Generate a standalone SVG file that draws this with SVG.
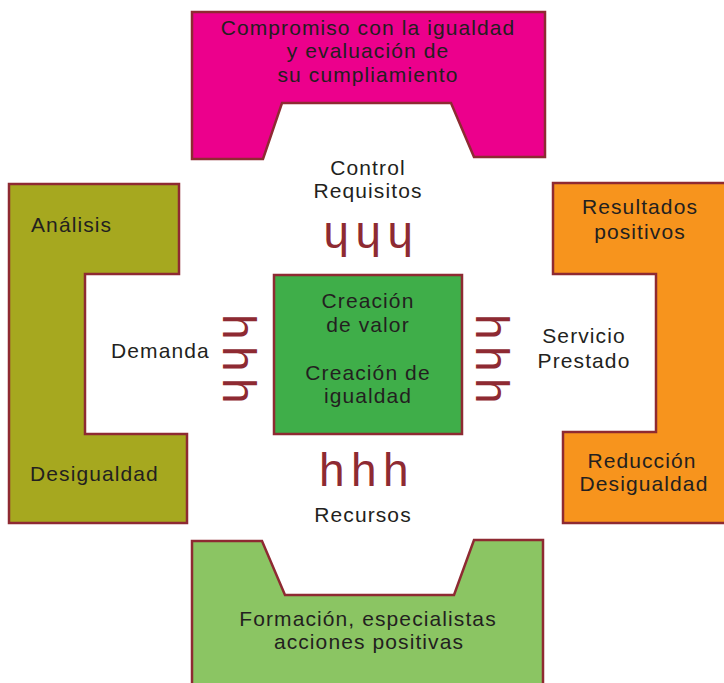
<svg xmlns="http://www.w3.org/2000/svg" width="724" height="683" viewBox="0 0 724 683">
  <style>
    .blk { stroke: #8E2A32; stroke-width: 2.5; stroke-linejoin: miter; }
    .lbl { font-family: "Liberation Sans", Arial, sans-serif; font-size: 21px; fill: #231F20; letter-spacing: 1.1px; }
    .mid { text-anchor: middle; }
    .arr { font-family: "Liberation Sans", Arial, sans-serif; font-size: 46px; fill: #8E2A32; letter-spacing: 6.4px; }
  </style>
  <rect width="724" height="683" fill="#FFFFFF"/>

  <!-- top block -->
  <g id="compromiso">
    <path class="blk" fill="#EC008C" d="M192,12 H545 V157 H474 L451,103 H282 L263,159 H192 Z"/>
    <text class="lbl mid" x="368" y="35">Compromiso con la igualdad</text>
    <text class="lbl mid" x="368" y="58">y evaluación de</text>
    <text class="lbl mid" x="368" y="82">su cumpliamiento</text>
  </g>

  <!-- left block -->
  <g id="analisis">
    <path class="blk" fill="#A6A81F" d="M9,184 H179 V274 H85 V434 H187 V523 H9 Z"/>
    <text class="lbl" x="31" y="232">Análisis</text>
    <text class="lbl" x="30" y="481">Desigualdad</text>
  </g>

  <!-- right block -->
  <g id="resultados">
    <path class="blk" fill="#F7941D" d="M553,183 H727 V523 H563 V432 H656 V274 H553 Z"/>
    <text class="lbl mid" x="640" y="214">Resultados</text>
    <text class="lbl mid" x="640" y="239">positivos</text>
    <text class="lbl mid" x="642" y="468">Reducción</text>
    <text class="lbl mid" x="644" y="491">Desigualdad</text>
  </g>

  <!-- bottom block -->
  <g id="formacion">
    <path class="blk" fill="#8BC563" d="M192,541 H262 L285,595 H454 L474,540 H543 V690 H192 Z"/>
    <text class="lbl mid" x="368" y="626">Formación, especialistas</text>
    <text class="lbl mid" x="369" y="649">acciones positivas</text>
  </g>

  <!-- centre block -->
  <g id="creacion">
    <rect class="blk" fill="#3FAE49" x="274" y="275" width="188" height="159"/>
    <text class="lbl mid" x="368" y="308">Creación</text>
    <text class="lbl mid" x="368" y="332">de valor</text>
    <text class="lbl mid" x="368" y="380">Creación de</text>
    <text class="lbl mid" x="368" y="403">igualdad</text>
  </g>

  <!-- flow labels and arrow glyphs between the blocks -->
  <g id="connectors">
    <text class="lbl mid" x="368" y="175">Control</text>
    <text class="lbl mid" x="368" y="198">Requisitos</text>
    <text class="arr" x="321" y="257" transform="rotate(180 367 240)">hhh</text>

    <text class="lbl" x="111" y="358">Demanda</text>
    <text class="arr" x="-3" y="0" transform="translate(223 317) rotate(90)">hhh</text>

    <text class="lbl mid" x="584" y="343">Servicio</text>
    <text class="lbl mid" x="584" y="368">Prestado</text>
    <text class="arr" x="-3" y="0" transform="translate(476 317) rotate(90)">hhh</text>

    <text class="arr" x="319" y="486">hhh</text>
    <text class="lbl mid" x="363" y="522">Recursos</text>
  </g>
</svg>
